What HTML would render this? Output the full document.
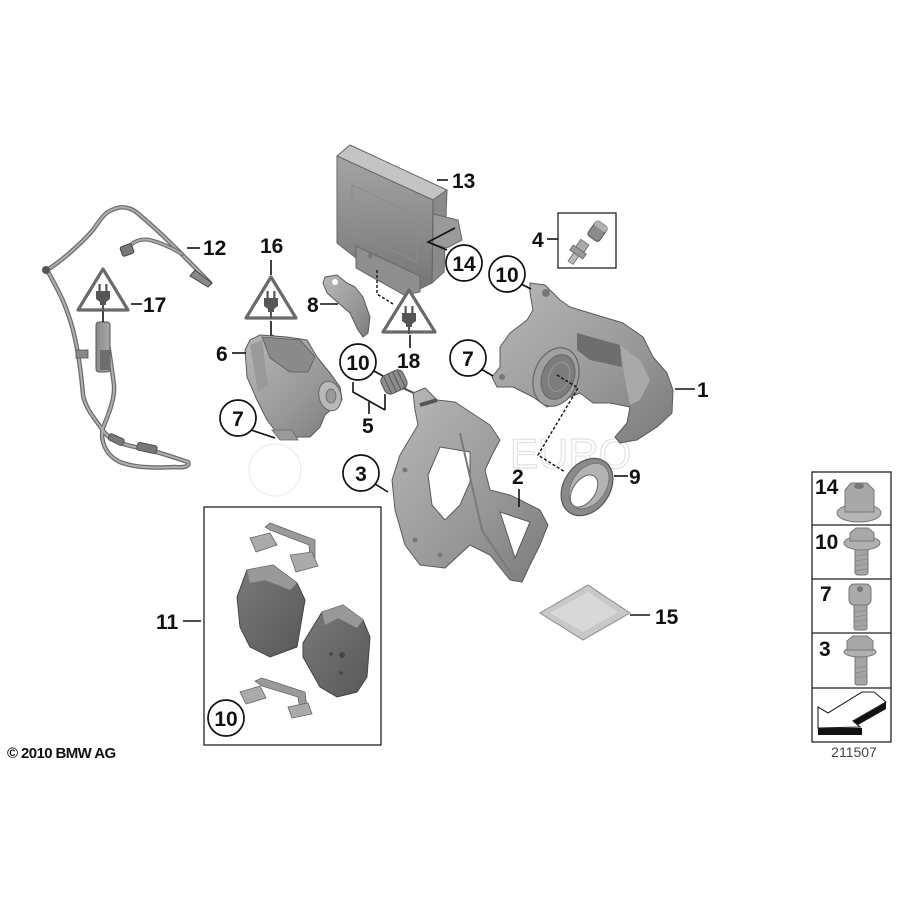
<!DOCTYPE html>
<html><head><meta charset="utf-8"><style>
html,body{margin:0;padding:0;background:#fff;}
svg{display:block}
text{font-family:"Liberation Sans",Arial,sans-serif;}
.l{font-size:21px;font-weight:bold;fill:#111}
.ln{stroke:#111;stroke-width:1.6;fill:none}
.dl{stroke:#111;stroke-width:1.4;fill:none;stroke-dasharray:3 2}
.c{fill:#fff;stroke:#111;stroke-width:1.7}
.tri{fill:#fff;stroke:#6a6a6a;stroke-width:3.2;stroke-linejoin:round}
.pt{stroke:#5a5a5a;stroke-width:1;stroke-linejoin:round}
.bx{fill:none;stroke:#222;stroke-width:1.3}
</style></head><body>
<svg width="900" height="900" viewBox="0 0 900 900" xmlns="http://www.w3.org/2000/svg">
<defs>
 <linearGradient id="g1" x1="0" y1="0" x2="1" y2="1"><stop offset="0" stop-color="#b8b8b8"/><stop offset="0.6" stop-color="#989898"/><stop offset="1" stop-color="#7a7a7a"/></linearGradient>
 <linearGradient id="g2" x1="0" y1="0" x2="0" y2="1"><stop offset="0" stop-color="#a4a4a4"/><stop offset="1" stop-color="#767676"/></linearGradient>
 <linearGradient id="g3" x1="0" y1="0" x2="1" y2="0"><stop offset="0" stop-color="#8a8a8a"/><stop offset="1" stop-color="#a8a8a8"/></linearGradient>
 <linearGradient id="gp" x1="0" y1="0" x2="1" y2="1"><stop offset="0" stop-color="#7a7a7a"/><stop offset="1" stop-color="#585858"/></linearGradient>
 <g id="plug" fill="#555">
  <rect x="-4.5" y="-13" width="2.2" height="7"/>
  <rect x="2.3" y="-13" width="2.2" height="7"/>
  <path d="M-7,-6 H7 V2 L3,5 V8 H-3 V5 L-7,2Z"/>
  <rect x="-1" y="8" width="2" height="7"/>
 </g>
</defs>

<!-- watermark -->
<g fill="none" stroke="#ececec" stroke-width="1.2">
 <circle cx="275" cy="470" r="26"/>
 <text x="510" y="468" font-size="42" font-family="Liberation Sans" fill="none" stroke="#e2e2e2">EURO</text>
</g>

<!-- ===== Cable 12 / 17 ===== -->
<g fill="none" stroke-linecap="round" stroke-linejoin="round">
 <path d="M47,270 C60,262 80,245 93,230 C100,220 105,212 112,210 C120,206 130,205 142,217 C160,232 180,252 210,283" stroke="#6c6c6c" stroke-width="4.5"/>
 <path d="M47,270 C60,262 80,245 93,230 C100,220 105,212 112,210 C120,206 130,205 142,217 C160,232 180,252 210,283" stroke="#b0b0b0" stroke-width="2"/>
 <path d="M126,250 C132,242 140,238 150,240 C162,243 172,248 182,254" stroke="#6c6c6c" stroke-width="4"/>
 <path d="M126,250 C132,242 140,238 150,240 C162,243 172,248 182,254" stroke="#b0b0b0" stroke-width="1.8"/>
 <path d="M47,270 C55,285 65,300 73,330 C78,350 81,370 83,395 C86,410 96,420 104,432 C112,442 125,445 140,448 C160,452 175,458 188,462 C190,466 185,468 175,467 C155,468 135,468 120,462 C105,455 100,440 103,428 C108,415 115,400 114,385 C112,370 110,355 108,345" stroke="#6c6c6c" stroke-width="4.5"/>
 <path d="M47,270 C55,285 65,300 73,330 C78,350 81,370 83,395 C86,410 96,420 104,432 C112,442 125,445 140,448 C160,452 175,458 188,462 C190,466 185,468 175,467 C155,468 135,468 120,462 C105,455 100,440 103,428 C108,415 115,400 114,385 C112,370 110,355 108,345" stroke="#b0b0b0" stroke-width="2"/>
</g>
<circle cx="46" cy="270" r="4" fill="#555"/>
<rect x="121" y="245" width="12" height="10" rx="2" fill="#777" stroke="#444" stroke-width="1" transform="rotate(-20 127 250)"/>
<rect x="96" y="322" width="14" height="50" rx="3" fill="url(#g3)" stroke="#555" stroke-width="1"/>
<rect x="100" y="350" width="10" height="20" fill="#6e6e6e"/>
<rect x="137" y="444" width="20" height="8" rx="2" fill="#777" stroke="#444" stroke-width="0.8" transform="rotate(12 147 448)"/>
<rect x="108" y="436" width="16" height="7" rx="2" fill="#777" stroke="#444" stroke-width="0.8" transform="rotate(25 116 440)"/>
<path d="M195,270 L212,283 L208,287 L190,276Z" fill="#888" stroke="#444" stroke-width="1"/>
<rect x="76" y="350" width="12" height="8" fill="#888" stroke="#555" stroke-width="0.8"/>

<!-- triangle 17 -->
<polygon class="tri" points="103,269 78,310 128,310"/>
<use href="#plug" x="103" y="297"/>
<line class="ln" x1="103" y1="312" x2="103" y2="322"/>
<line class="ln" x1="131" y1="304" x2="142" y2="304"/>
<text class="l" x="143" y="312">17</text>
<line class="ln" x1="187" y1="248" x2="200" y2="248"/>
<text class="l" x="203" y="255">12</text>

<!-- ===== Control unit 13 ===== -->
<polygon points="337,156 350,145 447,190 433,200" fill="#c4c4c4" stroke="#666" stroke-width="1"/>
<polygon points="433,200 447,190 444,272 432,283" fill="#8a8a8a" stroke="#666" stroke-width="1"/>
<polygon points="337,156 433,200 432,283 420,289 356,258 337,243" fill="url(#g2)" stroke="#666" stroke-width="1"/>
<polygon points="352,185 418,216 417,262 352,232" fill="none" stroke="#8c8c8c" stroke-width="1"/>
<polygon points="356,246 420,276 420,292 404,295 356,268" fill="#8e8e8e" stroke="#666" stroke-width="1"/>
<polygon points="433,214 458,220 462,240 447,248 433,244" fill="#9a9a9a" stroke="#666" stroke-width="1"/>
<circle cx="370" cy="256" r="2.5" fill="#777"/>
<line class="ln" x1="437" y1="180" x2="448" y2="180"/>
<text class="l" x="452" y="188">13</text>
<!-- 14 -->
<polyline class="ln" points="455,228 428,242 447,250"/>
<circle class="c" cx="464" cy="263" r="18"/>
<text class="l" x="464" y="271" text-anchor="middle">14</text>
<!-- dashed to 18 -->
<polyline class="dl" points="377,270 377,294 393,304"/>

<!-- ===== triangle 18 ===== -->
<polygon class="tri" points="409,290 383,332 435,332"/>
<use href="#plug" x="409" y="319"/>
<line class="ln" x1="410" y1="335" x2="410" y2="348"/>
<text class="l" x="397" y="368">18</text>

<!-- ===== bracket 8 ===== -->
<polygon class="pt" points="325,277 337,275 347,283 355,287 363,297 370,317 368,333 363,337 358,330 350,313 343,307 327,293 323,283" fill="url(#g1)"/>
<circle cx="335" cy="282" r="3" fill="#fff"/>
<line class="ln" x1="320" y1="304" x2="338" y2="304"/>
<text class="l" x="307" y="312">8</text>

<!-- ===== triangle 16 ===== -->
<text class="l" x="260" y="253">16</text>
<line class="ln" x1="271" y1="260" x2="271" y2="275"/>
<polygon class="tri" points="271,277 246,318 296,318"/>
<use href="#plug" x="271" y="304"/>
<polyline class="ln" points="271,321 271,335 287,342"/>

<!-- ===== motor 6 ===== -->
<polygon class="pt" points="250,340 260,335 287,337 307,340 317,357 330,373 340,387 342,400 333,408 325,415 320,427 310,437 290,437 277,433 267,420 257,400 247,377 245,350" fill="url(#g1)"/>
<polygon points="262,337 300,340 315,357 308,372 290,372 270,358" fill="#8a8a8a" stroke="#5a5a5a" stroke-width="0.8"/>
<polygon points="250,345 262,340 268,385 258,392" fill="#9a9a9a"/>
<ellipse cx="330" cy="396" rx="11" ry="15" fill="#b8b8b8" stroke="#666" stroke-width="1" transform="rotate(-15 330 396)"/>
<ellipse cx="331" cy="396" rx="5" ry="7" fill="#999" stroke="#666" stroke-width="0.8"/>
<path d="M272,430 L280,440 L298,440 L292,430Z" fill="#9a9a9a" stroke="#666" stroke-width="0.8"/>
<line class="ln" x1="232" y1="353" x2="246" y2="353"/>
<text class="l" x="216" y="361">6</text>
<!-- 7 on motor -->
<circle class="c" cx="238" cy="418" r="18"/>
<text class="l" x="238" y="426" text-anchor="middle">7</text>
<line class="ln" x1="251" y1="430" x2="275" y2="438"/>

<!-- ===== 10 / spring 5 ===== -->
<circle class="c" cx="358" cy="362" r="18"/>
<text class="l" x="358" y="370" text-anchor="middle">10</text>
<line class="ln" x1="374" y1="371" x2="383" y2="376"/>
<g transform="rotate(-25 394 382)">
 <rect x="382" y="372" width="24" height="20" rx="6" fill="#8c8c8c" stroke="#555" stroke-width="1"/>
 <line x1="387" y1="372" x2="387" y2="392" stroke="#555"/>
 <line x1="392" y1="372" x2="392" y2="392" stroke="#555"/>
 <line x1="397" y1="372" x2="397" y2="392" stroke="#555"/>
 <line x1="402" y1="372" x2="402" y2="392" stroke="#555"/>
</g>
<line x1="403" y1="388" x2="416" y2="394" stroke="#444" stroke-width="2"/>
<polyline class="ln" points="353,382 353,392 385,410"/>
<polyline class="ln" points="385,394 385,410"/>
<line class="ln" x1="369" y1="402" x2="369" y2="414"/>
<text class="l" x="362" y="433">5</text>

<!-- ===== carrier 2/3 ===== -->
<path class="pt" fill-rule="evenodd" fill="url(#g1)" d="M413,393 L425,388 L437,400 L455,402 L490,425 L500,440 L492,455 L485,470 L490,490 L510,495 L540,510 L548,525 L540,545 L530,565 L522,582 L510,580 L490,555 L470,545 L445,568 L420,565 L405,545 L395,510 L392,480 L400,455 L418,425 L415,410Z M440,447 L470,452 L470,482 L460,505 L445,520 L432,505 L428,475Z M500,512 L530,522 L515,558Z"/>
<path d="M460,433 L482,530 L513,577" fill="none" stroke="#7a7a7a" stroke-width="2"/>
<path d="M420,405 L437,400" stroke="#555" stroke-width="4"/>
<circle cx="405" cy="470" r="2.5" fill="#777"/>
<circle cx="415" cy="540" r="2.5" fill="#777"/>
<circle cx="440" cy="555" r="2.5" fill="#777"/>
<circle class="c" cx="361" cy="473" r="18"/>
<text class="l" x="361" y="481" text-anchor="middle">3</text>
<line class="ln" x1="375" y1="484" x2="388" y2="492"/>
<text class="l" x="512" y="484">2</text>
<line class="ln" x1="519" y1="489" x2="519" y2="507"/>

<!-- ===== caliper 1 ===== -->
<polygon class="pt" fill="url(#g1)" points="530,283 545,285 560,300 570,307 623,323 643,337 653,357 667,373 673,390 672,413 657,427 637,440 620,443 615,437 627,423 630,407 610,403 593,403 580,393 563,400 547,407 533,397 513,387 497,387 492,377 500,367 500,347 510,333 527,320 533,310 530,293"/>
<circle cx="546" cy="293" r="4" fill="#777"/>
<polygon points="577,333 620,345 622,367 590,360 577,350" fill="#6e6e6e"/>
<polygon points="620,345 640,360 650,380 640,400 630,405 625,380" fill="#a9a9a9"/>
<ellipse cx="556" cy="377" rx="22" ry="30" fill="#a0a0a0" stroke="#666" stroke-width="1.2" transform="rotate(20 556 377)"/>
<ellipse cx="558" cy="377" rx="16" ry="23" fill="#7d7d7d" stroke="#666" stroke-width="1" transform="rotate(20 558 377)"/>
<ellipse cx="559" cy="377" rx="10" ry="15" fill="none" stroke="#999" stroke-width="1" transform="rotate(20 559 377)"/>
<circle cx="502" cy="377" r="3" fill="#777"/>
<circle class="c" cx="507" cy="274" r="18"/>
<text class="l" x="507" y="282" text-anchor="middle">10</text>
<line class="ln" x1="521" y1="284" x2="531" y2="289"/>
<circle class="c" cx="468" cy="358" r="18"/>
<text class="l" x="468" y="366" text-anchor="middle">7</text>
<line class="ln" x1="481" y1="369" x2="493" y2="376"/>
<line class="ln" x1="675" y1="389" x2="695" y2="389"/>
<text class="l" x="697" y="397">1</text>
<!-- dashed to seal -->
<polyline class="dl" points="557,375 578,388 538,455 565,472"/>

<!-- ===== bleeder 4 ===== -->
<rect x="558" y="213" width="58" height="55" class="bx"/>
<line class="ln" x1="547" y1="239" x2="558" y2="239"/>
<text class="l" x="532" y="247">4</text>
<g transform="rotate(35 597 232)">
 <rect x="590" y="222" width="14" height="18" rx="3" fill="#8a8a8a" stroke="#555" stroke-width="1"/>
 <rect x="590" y="222" width="14" height="6" rx="2" fill="#b0b0b0"/>
</g>
<g transform="rotate(35 578 252)">
 <rect x="573" y="240" width="10" height="10" fill="#aaa" stroke="#666" stroke-width="0.8"/>
 <rect x="570" y="249" width="16" height="6" fill="#999" stroke="#666" stroke-width="0.8"/>
 <rect x="575" y="255" width="6" height="10" fill="#bbb" stroke="#666" stroke-width="0.8"/>
</g>

<!-- ===== seal 9 ===== -->
<ellipse cx="587" cy="487" rx="23" ry="31" fill="#8a8a8a" stroke="#555" stroke-width="1.2" transform="rotate(35 587 487)"/>
<ellipse cx="589" cy="486" rx="17" ry="25" fill="#b3b3b3" stroke="#777" stroke-width="1" transform="rotate(35 589 486)"/>
<ellipse cx="584" cy="491" rx="11" ry="18" fill="#fff" stroke="#666" stroke-width="1" transform="rotate(35 584 491)"/>
<line class="ln" x1="614" y1="476" x2="628" y2="476"/>
<text class="l" x="629" y="484">9</text>

<!-- ===== grease 15 ===== -->
<polygon points="540,613 588,585 630,613 583,640" fill="#c8c8c8" stroke="#8a8a8a" stroke-width="1"/>
<polygon points="550,613 588,592 618,612 583,632" fill="#d8d8d8"/>
<line class="ln" x1="630" y1="615" x2="650" y2="615"/>
<text class="l" x="655" y="624">15</text>

<!-- ===== pads box 11 ===== -->
<rect x="204" y="507" width="177" height="238" class="bx"/>
<line class="ln" x1="183" y1="621" x2="201" y2="621"/>
<text class="l" x="156" y="629">11</text>
<!-- top clip -->
<path d="M265,527 L270,523 L315,540 L315,558 L310,560 L309,545 L270,530Z" fill="#9a9a9a" stroke="#666" stroke-width="0.8"/>
<polygon points="250,538 270,533 277,545 256,552" fill="#aaa" stroke="#666" stroke-width="0.8"/>
<polygon points="290,555 312,552 318,566 296,572" fill="#aaa" stroke="#666" stroke-width="0.8"/>
<!-- pad 1 -->
<polygon points="237,597 247,570 273,565 297,583 305,600 297,647 270,657 250,647 240,627" fill="url(#gp)" stroke="#444" stroke-width="1"/>
<polygon points="247,570 273,565 297,583 290,590 265,580 250,583" fill="#999"/>
<!-- pad 2 -->
<polygon points="303,643 322,612 343,605 363,620 370,637 367,677 357,692 337,697 320,687 303,657" fill="url(#gp)" stroke="#444" stroke-width="1"/>
<polygon points="322,612 343,605 363,620 357,628 338,618 325,625" fill="#999"/>
<circle cx="342" cy="655" r="3" fill="#444"/>
<circle cx="331" cy="654" r="1.8" fill="#444"/>
<circle cx="341" cy="673" r="1.8" fill="#444"/>
<!-- bottom clip -->
<path d="M255,681 L262,678 L305,692 L307,708 L300,710 L298,697 L262,686Z" fill="#9a9a9a" stroke="#666" stroke-width="0.8"/>
<polygon points="240,692 260,686 266,698 246,704" fill="#aaa" stroke="#666" stroke-width="0.8"/>
<polygon points="288,707 308,703 312,714 292,718" fill="#aaa" stroke="#666" stroke-width="0.8"/>
<circle class="c" cx="226" cy="718" r="18"/>
<text class="l" x="226" y="726" text-anchor="middle">10</text>

<!-- ===== fastener column ===== -->
<rect x="812" y="472" width="79" height="270" class="bx"/>
<line x1="812" y1="525" x2="891" y2="525" stroke="#222" stroke-width="1.2"/>
<line x1="812" y1="579" x2="891" y2="579" stroke="#222" stroke-width="1.2"/>
<line x1="812" y1="633" x2="891" y2="633" stroke="#222" stroke-width="1.2"/>
<line x1="812" y1="688" x2="891" y2="688" stroke="#222" stroke-width="1.2"/>
<text class="l" x="815" y="494">14</text>
<text class="l" x="815" y="549">10</text>
<text class="l" x="820" y="601">7</text>
<text class="l" x="819" y="656">3</text>
<!-- nut 14 -->
<ellipse cx="859" cy="513" rx="22" ry="9" fill="#b5b5b5" stroke="#777" stroke-width="1"/>
<polygon points="845,512 845,490 851,483 867,483 874,490 874,512" fill="#a8a8a8" stroke="#777" stroke-width="1"/>
<ellipse cx="859" cy="486" rx="5" ry="3" fill="#777"/>
<!-- bolt 10 -->
<rect x="855" y="545" width="13" height="30" rx="3" fill="#a5a5a5" stroke="#777" stroke-width="1"/>
<g stroke="#888" stroke-width="0.8"><line x1="855" y1="556" x2="868" y2="554"/><line x1="855" y1="561" x2="868" y2="559"/><line x1="855" y1="566" x2="868" y2="564"/><line x1="855" y1="571" x2="868" y2="569"/></g>
<ellipse cx="862" cy="543" rx="18" ry="7" fill="#b0b0b0" stroke="#777" stroke-width="1"/>
<polygon points="850,541 850,533 856,528 868,528 874,533 874,541" fill="#a8a8a8" stroke="#777" stroke-width="1"/>
<!-- bolt 7 -->
<rect x="854" y="603" width="13" height="27" rx="2" fill="#a5a5a5" stroke="#777" stroke-width="1"/>
<g stroke="#888" stroke-width="0.8"><line x1="854" y1="612" x2="867" y2="610"/><line x1="854" y1="617" x2="867" y2="615"/><line x1="854" y1="622" x2="867" y2="620"/><line x1="854" y1="627" x2="867" y2="625"/></g>
<rect x="849" y="584" width="22" height="21" rx="5" fill="#aaa" stroke="#777" stroke-width="1"/>
<circle cx="860" cy="589" r="3" fill="#777"/>
<!-- bolt 3 -->
<rect x="855" y="653" width="12" height="32" rx="2" fill="#a5a5a5" stroke="#777" stroke-width="1"/>
<g stroke="#888" stroke-width="0.8"><line x1="855" y1="668" x2="867" y2="666"/><line x1="855" y1="673" x2="867" y2="671"/><line x1="855" y1="678" x2="867" y2="676"/></g>
<ellipse cx="860" cy="652" rx="16" ry="5" fill="#b0b0b0" stroke="#777" stroke-width="1"/>
<polygon points="847,650 847,641 853,636 867,636 873,641 873,650" fill="#a8a8a8" stroke="#777" stroke-width="1"/>
<!-- arrow -->
<polygon points="818,728 862,728 862,735 818,735" fill="#111"/>
<polygon points="853,721 886,702 886,709 858,725" fill="#111"/>
<polygon points="818,707 828,713 862,692 874,692 886,702 853,721 860,727 818,728" fill="#fff" stroke="#222" stroke-width="1.1"/>

<text x="854" y="757" font-size="14" fill="#444" text-anchor="middle">211507</text>
<text x="7" y="758" font-size="15" font-weight="bold" fill="#111" letter-spacing="-0.6">© 2010 BMW AG</text>
</svg>
</body></html>
